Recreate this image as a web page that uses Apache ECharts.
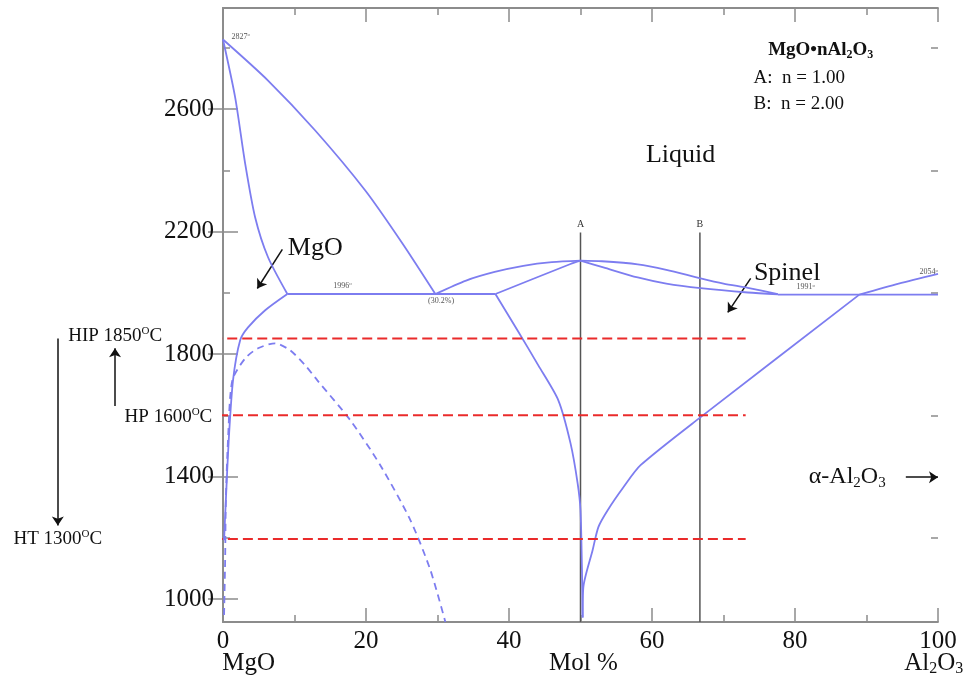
<!DOCTYPE html>
<html><head><meta charset="utf-8">
<script src="https://cdn.jsdelivr.net/npm/echarts@6/dist/echarts.min.js"></script>
<style>html,body{margin:0;padding:0;background:#fff}#c{width:966px;height:684px}</style>
</head><body><div id="c"></div>
<script>
const SERIF = '"Liberation Serif","Times New Roman",serif';

// ---- axes ----
const xMin = 0, xMax = 100, xStep = 20;
const yMin = 925, yMax = 2930;
const yMajorTicks = [1000, 1400, 1800, 2200, 2600];
const yMinorTicks = [1200, 1600, 2000, 2400, 2800];

// ---- phase boundaries: [mol % Al2O3, temperature °C] ----
const mgoLiquidus = [[0, 2827], [6.3, 2693], [12.9, 2530], [19.9, 2334], [25.1, 2161], [29.7, 1996]];
const mgoSolidus = [[0, 2827], [1.7, 2638], [3.1, 2422], [4.5, 2246], [6.3, 2116], [9.0, 1996]];
const mgoSolvus = [[9.0, 1996], [5.9, 1943], [3.5, 1887], [2.4, 1845], [1.4, 1714], [0.8, 1519], [0.4, 1323], [0.15, 1192]];
const mgoSolvusDashed = [[0.15, 948], [0.3, 1127], [0.4, 1323], [0.7, 1519], [1.3, 1714], [3.1, 1786], [4.9, 1819], [7.3, 1835], [9.4, 1812], [11.5, 1763], [13.2, 1714], [17.8, 1584], [22.0, 1437], [26.2, 1258], [29.0, 1095], [31.1, 925]];
const eutecticLeft = [[9.0, 1996], [38.1, 1996]];
const spinelLiquidusLeft = [[29.7, 1996], [34, 2040], [38, 2068], [42, 2088], [46, 2100], [50, 2105]];
const spinelSolidusLeft = [[38.1, 1996], [48.6, 2094], [50, 2105]];
const spinelSolvusLeft = [[38.1, 1996], [41.2, 1877], [44.1, 1763], [46.9, 1649], [48.6, 1509], [49.6, 1378], [50.0, 1290], [50.2, 1100], [50.3, 940]];
const spinelSolvusRight = [[50.3, 940], [50.4, 1039], [51.7, 1160], [52.5, 1235], [53.8, 1290], [56.0, 1365], [58.4, 1437], [66.8, 1594], [89.0, 1994]];
const spinelLiquidusRight = [[50, 2105], [53, 2103], [58, 2093], [62, 2075], [66.8, 2047], [70, 2030], [73.4, 2016], [77.6, 1996]];
const spinelSolidusRight = [[50, 2105], [53.2, 2083], [58, 2050], [62, 2030], [66.8, 2015], [73.4, 2001], [77.6, 1995]];
const eutecticRight = [[77.6, 1994], [100, 1994]];
const al2o3Liquidus = [[89.0, 1994], [94.5, 2030], [100, 2062]];

// ---- composition lines A (n=1) and B (n=2) ----
const compA = [[50, 2197], [50, 925]];
const compB = [[66.7, 2197], [66.7, 925]];

// ---- processing temperatures (red dashed) ----
const hipLine = [[-7.8, 1851], [73.1, 1851]];
const hpLine = [[-0.7, 1600], [73.1, 1600]];
const htLine = [[-16.1, 1196], [73.1, 1196]];

// ---- arrows [from, to] in data units ----
const arrows = [
  [[8.3, 2142], [4.8, 2014]],      // MgO
  [[73.8, 2047], [70.6, 1936]],    // Spinel
  [[95.5, 1398], [100, 1398]],     // alpha-Al2O3
  [[-23.1, 1851], [-23.1, 1240]],  // HIP -> HT
  [[-15.1, 1630], [-15.1, 1819]]   // HP -> HIP
];

// ---- text annotations ----
const labelTexts = ['Liquid', 'MgO', 'Spinel', 'α-Al{sub|2}O{sub|3}',
  'MgO•nAl{sub|2}O{sub|3}', 'A:  n = 1.00', 'B:  n = 2.00',
  'HIP 1850{sup|O}C', 'HP 1600{sup|O}C', 'HT 1300{sup|O}C',
  'MgO', 'Mol %', 'Al{sub|2}O{sub|3}',
  '2827{sup|o}', '1996{sup|o}', '(30.2%)', '1991{sup|o}', '2054{sup|o}', 'A', 'B'];
const labelX = [64.0, 12.9, 78.9, 87.3, 83.6, 74.2, 74.2, -8.5, -1.5, -16.9, -0.1, 50.4, 99.4, 1.2, 16.7, 30.5, 81.5, 98.7, 50, 66.7];
const labelT = [2448, 2145, 2063, 1398, 2791, 2700, 2615, 1860, 1594, 1196, 791, 791, 791, 2836, 2024, 1975, 2018, 2067, 2223, 2223];

// styles per annotation (kept separate from the data)
const labelStyle = [
  {s: 26, a: 'center'}, {s: 26, a: 'center'}, {s: 26, a: 'center'}, {s: 24, a: 'center'},
  {s: 19, a: 'center', b: true}, {s: 19, a: 'left'}, {s: 19, a: 'left'},
  {s: 19, a: 'right'}, {s: 19, a: 'right'}, {s: 19, a: 'right'},
  {s: 25, a: 'left'}, {s: 25, a: 'center'}, {s: 25, a: 'center'},
  {s: 8, a: 'left', c: '#555'}, {s: 8, a: 'center', c: '#555'}, {s: 8, a: 'center', c: '#555'}, {s: 8, a: 'center', c: '#555'}, {s: 8, a: 'center', c: '#555'},
  {s: 10, a: 'center', c: '#333'}, {s: 10, a: 'center', c: '#333'}
];

const BLUE = '#7d7df0';
const AXIS = '#8c8c8c';
const TXT = '#111111';

function phase(data, dashed) {
  return {
    type: 'line', data: data, showSymbol: false, symbol: 'none', silent: true, clip: true,
    smooth: 0.25,
    lineStyle: {color: BLUE, width: 1.8, type: dashed ? [7, 5] : 'solid'}
  };
}
function straight(data, color, width, type) {
  return {
    type: 'line', data: data, showSymbol: false, symbol: 'none', silent: true, clip: false,
    lineStyle: {color: color, width: width, type: type}
  };
}

const annoData = labelTexts.map((t, i) => {
  const st = labelStyle[i];
  const s = st.s;
  const w = st.b ? 'bold' : 'normal';
  const col = st.c || TXT;
  return {
    value: [labelX[i], labelT[i]],
    label: {
      show: true, position: 'inside', formatter: t, align: st.a, verticalAlign: 'middle',
      fontFamily: SERIF, fontSize: s, fontWeight: w, color: col, opacity: 1, lineHeight: Math.round(s * 1.1),
      textBorderWidth: 0,
      rich: {
        sub: {fontFamily: SERIF, fontSize: Math.round(s * 0.62), lineHeight: Math.round(s * 0.62), verticalAlign: 'bottom', fontWeight: w, color: col},
        sup: {fontFamily: SERIF, fontSize: Math.round(s * 0.6), lineHeight: Math.round(s * 0.6), verticalAlign: 'top', fontWeight: w, color: col}
      }
    }
  };
});

const tickLine = {color: AXIS, width: 1.5};
const chart = echarts.init(document.getElementById('c'), null, {renderer: 'canvas'});
const gridBox = {left: 223, right: 28, top: 8, bottom: 62};
const plainNum = v => String(v);
chart.setOption({
  animation: false,
  backgroundColor: '#ffffff',
  grid: [Object.assign({}, gridBox), Object.assign({}, gridBox)],
  xAxis: [
    {gridIndex: 0, type: 'value', position: 'bottom', min: xMin, max: xMax, interval: xStep,
      axisLine: {lineStyle: {color: AXIS, width: 1.8}},
      axisTick: {inside: true, length: 14, lineStyle: tickLine},
      minorTick: {show: true, splitNumber: 2, length: 7, lineStyle: tickLine},
      splitLine: {show: false},
      axisLabel: {fontFamily: SERIF, fontSize: 25, color: TXT, margin: 7, formatter: plainNum}},
    {gridIndex: 0, type: 'value', position: 'top', min: xMin, max: xMax, interval: xStep,
      axisLine: {lineStyle: {color: AXIS, width: 1.8}},
      axisTick: {inside: true, length: 14, lineStyle: tickLine},
      minorTick: {show: true, splitNumber: 2, length: 7, lineStyle: tickLine},
      splitLine: {show: false}, axisLabel: {show: false}},
    {gridIndex: 1, type: 'value', min: xMin, max: xMax, show: false}
  ],
  yAxis: [
    {gridIndex: 0, type: 'value', position: 'left', min: yMin, max: yMax,
      axisLine: {show: true, lineStyle: {color: AXIS, width: 1.8}},
      axisTick: {show: true, inside: true, length: 15, customValues: yMajorTicks, lineStyle: tickLine},
      splitLine: {show: false},
      axisLabel: {customValues: yMajorTicks, fontFamily: SERIF, fontSize: 25, color: TXT, margin: 9, formatter: plainNum}},
    {gridIndex: 0, type: 'value', position: 'right', min: yMin, max: yMax,
      axisLine: {show: true, lineStyle: {color: AXIS, width: 1.8}},
      axisTick: {show: true, inside: true, length: 15, customValues: yMajorTicks, lineStyle: tickLine},
      splitLine: {show: false}, axisLabel: {show: false}},
    {gridIndex: 1, type: 'value', position: 'left', min: yMin, max: yMax,
      axisLine: {show: false},
      axisTick: {show: true, inside: true, length: 7, customValues: yMinorTicks, lineStyle: tickLine},
      splitLine: {show: false}, axisLabel: {show: false}},
    {gridIndex: 1, type: 'value', position: 'right', min: yMin, max: yMax,
      axisLine: {show: false},
      axisTick: {show: true, inside: true, length: 7, customValues: yMinorTicks, lineStyle: tickLine},
      splitLine: {show: false}, axisLabel: {show: false}}
  ],
  series: [
    straight(compA, '#555555', 1.5, 'solid'),
    straight(compB, '#555555', 1.5, 'solid'),
    phase(mgoLiquidus), phase(mgoSolidus), phase(mgoSolvus), phase(mgoSolvusDashed, true),
    phase(eutecticLeft), phase(spinelLiquidusLeft), phase(spinelSolidusLeft),
    phase(spinelSolvusLeft), phase(spinelSolvusRight),
    phase(spinelLiquidusRight), phase(spinelSolidusRight),
    phase(eutecticRight), phase(al2o3Liquidus),
    straight(hipLine, '#ea2b2b', 2, [10, 5]),
    straight(hpLine, '#ea2b2b', 2, [10, 5]),
    straight(htLine, '#ea2b2b', 2, [10, 5]),
    {type: 'lines', coordinateSystem: 'cartesian2d', xAxisIndex: 0, yAxisIndex: 0, clip: false, silent: true,
      symbol: ['none', 'arrow'], symbolSize: 9,
      lineStyle: {color: '#111', width: 1.5, opacity: 1, curveness: 0},
      data: arrows.map(a => ({coords: a}))},
    {type: 'scatter', symbolSize: 0, clip: false, silent: true, data: annoData,
      itemStyle: {color: '#000', opacity: 1}}
  ]
});
</script>
</body></html>
